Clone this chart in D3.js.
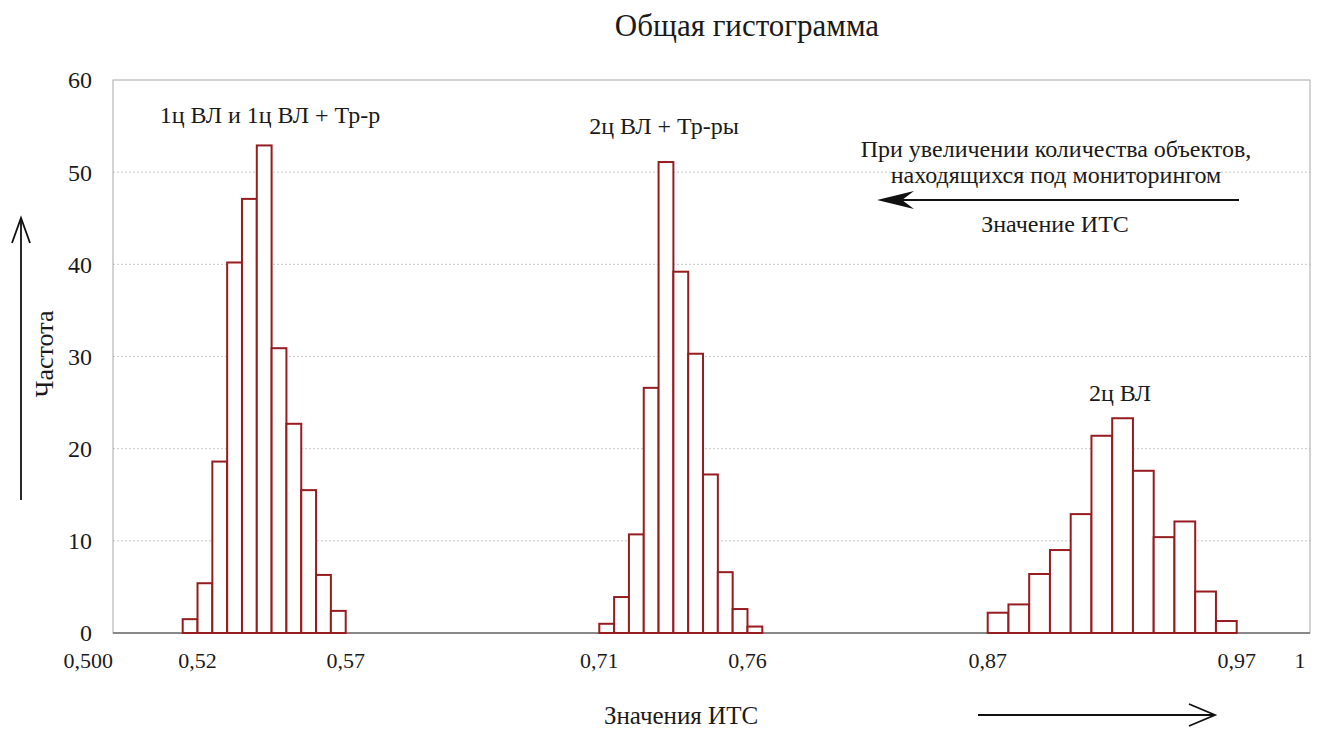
<!DOCTYPE html>
<html><head><meta charset="utf-8">
<script src="https://cdn.jsdelivr.net/npm/d3@7"></script>
<style>body{margin:0;background:#fff}svg{display:block}</style>
</head><body><svg id="c" width="1317" height="729"></svg>
<script>
// Data
const group1Start = 0.515, group1Step = 0.005;
const group1Freq = [1.5, 5.4, 18.6, 40.2, 47.1, 52.9, 30.9, 22.7, 15.5, 6.3, 2.4];
const group2Start = 0.71, group2Step = 0.005;
const group2Freq = [1.0, 3.9, 10.7, 26.6, 51.1, 39.2, 30.3, 17.2, 6.6, 2.6, 0.7];
const group3Start = 0.87, group3Step = 0.1 / 12;
const group3Freq = [2.2, 3.1, 6.4, 9.0, 12.9, 21.4, 23.3, 17.6, 10.4, 12.1, 4.5, 1.3];
const xTickValues = [0.5, 0.52, 0.57, 0.71, 0.76, 0.87, 0.97, 1];
const xTickLabels = ["0,500", "0,52", "0,57", "0,71", "0,76", "0,87", "0,97", "1"];
const yTicks = [0, 10, 20, 30, 40, 50, 60];
const groupLabels = ["1ц ВЛ и 1ц ВЛ + Тр-р", "2ц ВЛ + Тр-ры", "2ц ВЛ"];

const FONT = "'Liberation Serif', 'Times New Roman', serif";
const svg = d3.select("#c");
const L = 113, R = 1310, T = 80, B = 633;
// piecewise (broken) axis as in the original
const x = d3.scaleLinear()
  .domain([0.5, 0.515, 0.57, 0.71, 0.765, 0.87, 0.97, 1, 1.004])
  .range([L, 182.7, 345.7, 599.3, 762.3, 987.7, 1236.7, 1300, R]);
const y = d3.scaleLinear().domain([0, 60]).range([B, T]);

function txt(sel, size) { return sel.attr("fill", "#1a1a1a").style("font-family", FONT).attr("font-size", size); }

// grid
svg.append("g").selectAll("line").data(yTicks.filter(d => d > 0 && d < 60)).join("line")
  .attr("x1", L).attr("x2", R).attr("y1", d => y(d)).attr("y2", d => y(d))
  .attr("stroke", "#c8c8c8").attr("stroke-width", 1).attr("stroke-dasharray", "2,2");
// frame
svg.append("rect").attr("x", L).attr("y", T).attr("width", R - L).attr("height", B - T)
  .attr("fill", "none").attr("stroke", "#a8a8a8").attr("stroke-width", 1);
svg.append("line").attr("x1", L).attr("x2", R).attr("y1", B).attr("y2", B)
  .attr("stroke", "#707070").attr("stroke-width", 1.5);

// bars
function bins(start, step, freq) {
  return freq.map((f, i) => ({ x0: start + i * step, x1: start + (i + 1) * step, f }));
}
const all = [...bins(group1Start, group1Step, group1Freq), ...bins(group2Start, group2Step, group2Freq), ...bins(group3Start, group3Step, group3Freq)];
svg.append("g").selectAll("rect").data(all).join("rect")
  .attr("x", d => x(d.x0)).attr("width", d => x(d.x1) - x(d.x0))
  .attr("y", d => y(d.f)).attr("height", d => y(0) - y(d.f))
  .attr("fill", "#fff").attr("stroke", "#961c20").attr("stroke-width", 2);

// y tick labels
txt(svg.append("g").selectAll("text").data(yTicks).join("text"), 24)
  .attr("x", 92).attr("y", d => y(d)).attr("dy", "0.35em").attr("text-anchor", "end").text(d => d);
// x tick labels
txt(svg.append("g").selectAll("text").data(xTickValues).join("text"), 22)
  .attr("x", d => x(d)).attr("y", 668).attr("text-anchor", (d, i) => i === 0 ? "end" : "middle")
  .text((d, i) => xTickLabels[i]);

// title
txt(svg.append("text"), 31).attr("x", 747).attr("y", 36).attr("text-anchor", "middle").text("Общая гистограмма");
// group labels
txt(svg.append("text"), 24).attr("x", 270).attr("y", 123).attr("text-anchor", "middle").text(groupLabels[0]);
txt(svg.append("text"), 24).attr("x", 664).attr("y", 134).attr("text-anchor", "middle").text(groupLabels[1]);
txt(svg.append("text"), 24).attr("x", 1120).attr("y", 401).attr("text-anchor", "middle").text(groupLabels[2]);

// right annotation
txt(svg.append("text"), 24).attr("x", 1056).attr("y", 157).attr("text-anchor", "middle").text("При увеличении количества объектов,");
txt(svg.append("text"), 24).attr("x", 1056).attr("y", 183).attr("text-anchor", "middle").text("находящихся под мониторингом");
txt(svg.append("text"), 24).attr("x", 1055).attr("y", 232).attr("text-anchor", "middle").text("Значение ИТС");

// left-pointing arrow
svg.append("line").attr("x1", 1239).attr("x2", 882).attr("y1", 200).attr("y2", 200).attr("stroke", "#111").attr("stroke-width", 2.2);
svg.append("path").attr("d", "M877,200 L914,191 L902,200 L914,209 Z").attr("fill", "#111");

// bottom axis title + arrow
txt(svg.append("text"), 25).attr("x", 681).attr("y", 724).attr("text-anchor", "middle").text("Значения ИТС");
svg.append("line").attr("x1", 978).attr("x2", 1215).attr("y1", 715).attr("y2", 715).attr("stroke", "#111").attr("stroke-width", 1.8);
svg.append("path").attr("d", "M1189,704 L1215,715 L1189,726").attr("fill", "none").attr("stroke", "#111").attr("stroke-width", 1.8);

// y axis title + arrow
txt(svg.append("text"), 26).attr("transform", "translate(53,354) rotate(-90)").attr("text-anchor", "middle").text("Частота");
svg.append("line").attr("x1", 21).attr("x2", 21).attr("y1", 500).attr("y2", 218).attr("stroke", "#111").attr("stroke-width", 1.8);
svg.append("path").attr("d", "M12,243 L21,218 L30,243").attr("fill", "none").attr("stroke", "#111").attr("stroke-width", 1.8);
</script></body></html>
